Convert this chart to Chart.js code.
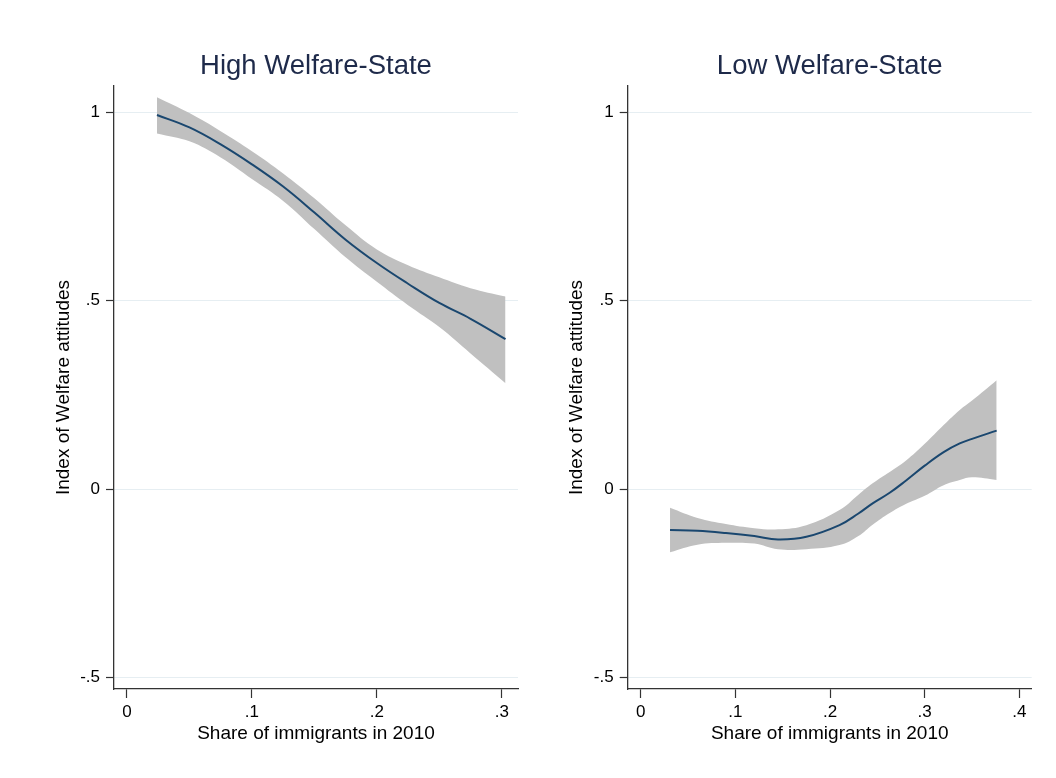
<!DOCTYPE html>
<html>
<head>
<meta charset="utf-8">
<title>Index of Welfare attitudes by share of immigrants</title>
<script src="https://cdn.jsdelivr.net/npm/chart.js@4/dist/chart.umd.min.js"></script>
<style>
  html, body { margin: 0; padding: 0; background: #fff; }
  #wrap { position: relative; width: 1056px; height: 778px; overflow: hidden; }
  canvas { position: absolute; top: 0; }
  #cHigh { left: 0; }
  #cLow { left: 528px; }
</style>
</head>
<body>
<div id="wrap">
  <canvas id="cHigh" width="528" height="778"></canvas>
  <canvas id="cLow" width="528" height="778"></canvas>
</div>
<script>
// Panel titles and axis titles
const panelTitles = ["High Welfare-State", "Low Welfare-State"];
const xTitle = "Share of immigrants in 2010";
const yTitle = "Index of Welfare attitudes";

// Tick values
const yTicks = [-0.5, 0, 0.5, 1];
const highXTicks = [0, 0.1, 0.2, 0.3];
const lowXTicks = [0, 0.1, 0.2, 0.3, 0.4];

// High welfare-state: fitted curve and confidence band
const highX     = [0.024, 0.05, 0.075, 0.1, 0.125, 0.15, 0.175, 0.2, 0.225, 0.25, 0.275, 0.303];
const highFit   = [0.993, 0.960, 0.915, 0.862, 0.803, 0.734, 0.662, 0.600, 0.545, 0.494, 0.452, 0.398];
const highUpper = [1.040, 0.998, 0.950, 0.897, 0.838, 0.772, 0.700, 0.636, 0.594, 0.562, 0.533, 0.511];
const highLower = [0.944, 0.923, 0.880, 0.823, 0.765, 0.690, 0.615, 0.550, 0.488, 0.430, 0.360, 0.281];

// Low welfare-state: fitted curve and confidence band
const lowX     = [0.031, 0.06, 0.09, 0.12, 0.145, 0.175, 0.21, 0.23, 0.245, 0.263, 0.28, 0.3, 0.32, 0.337, 0.35, 0.376];
const lowFit   = [-0.109, -0.111, -0.117, -0.125, -0.134, -0.127, -0.096, -0.065, -0.038, -0.010, 0.022, 0.062, 0.098, 0.121, 0.133, 0.155];
const lowUpper = [-0.050, -0.077, -0.093, -0.104, -0.107, -0.096, -0.056, -0.015, 0.015, 0.045, 0.075, 0.120, 0.170, 0.210, 0.235, 0.289];
const lowLower = [-0.168, -0.148, -0.143, -0.145, -0.160, -0.160, -0.149, -0.125, -0.095, -0.064, -0.040, -0.018, 0.010, 0.024, 0.031, 0.024];

const FONT = "'Liberation Sans', Arial, Helvetica, sans-serif";
const LINE_COLOR = '#1a476f';
const BAND_COLOR = '#c0c0c0';
const AXIS_COLOR = '#333333';
const GRID_COLOR = '#e6eef2';
const TITLE_COLOR = '#1e2a4a';

function fmtTick(v) {
  if (Math.abs(v) < 1e-9) return '0';
  let s = String(Math.round(v * 10) / 10);
  return s.replace(/^0\./, '.').replace(/^-0\./, '-.');
}

function pairs(xs, ys) {
  return xs.map((x, i) => ({ x: x, y: ys[i] }));
}

// Panel title centred over the plot region rather than the whole canvas
const panelTitlePlugin = {
  id: 'panelTitle',
  afterDraw(chart, args, opts) {
    const { ctx, chartArea } = chart;
    ctx.save();
    ctx.font = `${opts.size}px ${FONT}`;
    ctx.fillStyle = opts.color;
    ctx.textAlign = 'center';
    ctx.textBaseline = 'middle';
    ctx.fillText(opts.text, (chartArea.left + chartArea.right) / 2, opts.y);
    ctx.restore();
  }
};

function makePanel(canvasId, title, xs, fit, upper, lower, xTicks, xMin, xMax, yAxisWidth, rightPad) {
  const ctx = document.getElementById(canvasId);
  return new Chart(ctx, {
    type: 'line',
    plugins: [panelTitlePlugin],
    data: {
      datasets: [
        {
          label: 'fit',
          data: pairs(xs, fit),
          borderColor: LINE_COLOR,
          borderWidth: 2,
          pointRadius: 0,
          tension: 0.4,
          fill: false
        },
        {
          label: 'upper',
          data: pairs(xs, upper),
          borderWidth: 0,
          borderColor: 'rgba(0,0,0,0)',
          backgroundColor: BAND_COLOR,
          pointRadius: 0,
          tension: 0.4,
          fill: '+1'
        },
        {
          label: 'lower',
          data: pairs(xs, lower),
          borderWidth: 0,
          borderColor: 'rgba(0,0,0,0)',
          backgroundColor: BAND_COLOR,
          pointRadius: 0,
          tension: 0.4,
          fill: false
        }
      ]
    },
    options: {
      responsive: false,
      animation: false,
      devicePixelRatio: 1,
      layout: { padding: { left: 0, right: rightPad, top: 86, bottom: 0 } },
      plugins: {
        legend: { display: false },
        tooltip: { enabled: false },
        title: { display: false },
        panelTitle: { text: title, size: 27.5, color: TITLE_COLOR, y: 66 }
      },
      scales: {
        x: {
          type: 'linear',
          min: xMin,
          max: xMax,
          afterBuildTicks: (s) => { s.ticks = xTicks.map(v => ({ value: v })); },
          afterFit: (s) => { s.height = 89; },
          ticks: {
            autoSkip: false,
            maxRotation: 0,
            color: '#000',
            padding: 4,
            font: { family: FONT, size: 17 },
            callback: (v) => fmtTick(v)
          },
          grid: {
            drawOnChartArea: false,
            drawTicks: true,
            tickLength: 9,
            tickColor: AXIS_COLOR,
            tickWidth: 1.2
          },
          border: { display: true, color: AXIS_COLOR, width: 1.3 },
          title: {
            display: true,
            text: xTitle,
            color: '#000',
            font: { family: FONT, size: 19 },
            padding: { top: 0, bottom: 33 }
          }
        },
        y: {
          type: 'linear',
          min: -0.531,
          max: 1.07,
          afterBuildTicks: (s) => { s.ticks = yTicks.map(v => ({ value: v })); },
          afterFit: (s) => { s.width = yAxisWidth; },
          ticks: {
            autoSkip: false,
            color: '#000',
            padding: 6,
            font: { family: FONT, size: 17 },
            callback: (v) => fmtTick(v)
          },
          grid: {
            color: GRID_COLOR,
            lineWidth: 1,
            drawTicks: true,
            tickLength: 8,
            tickColor: AXIS_COLOR,
            tickWidth: 1.2
          },
          border: { display: true, color: AXIS_COLOR, width: 1.3 },
          title: {
            display: true,
            text: yTitle,
            color: '#000',
            font: { family: FONT, size: 19 },
            padding: { top: yAxisWidth - 52 - 10, bottom: 0 }
          }
        }
      }
    }
  });
}

makePanel('cHigh', panelTitles[0], highX, highFit, highUpper, highLower, highXTicks, -0.0104, 0.313, 114, 10);
makePanel('cLow', panelTitles[1], lowX, lowFit, lowUpper, lowLower, lowXTicks, -0.0137, 0.413, 99.7, 24.3);
</script>
</body>
</html>
